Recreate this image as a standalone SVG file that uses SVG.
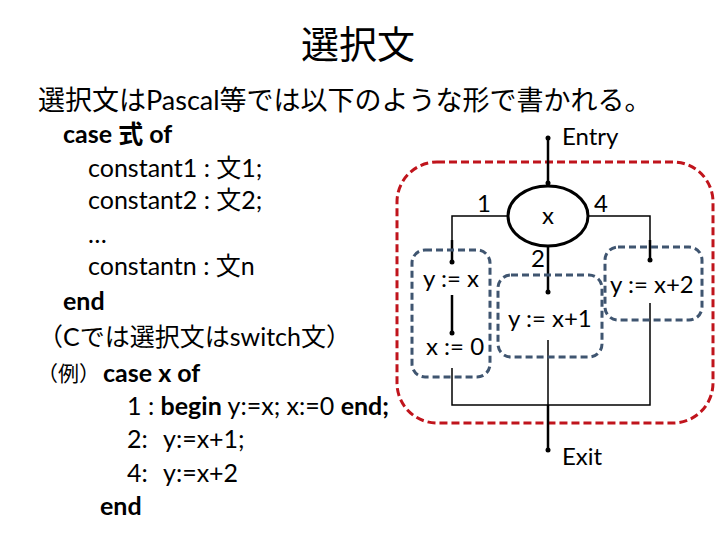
<svg xmlns="http://www.w3.org/2000/svg" width="720" height="540" viewBox="0 0 720 540">
<defs>
<style>
text{font-family:Lato,"Noto Sans CJK JP",sans-serif;fill:#000}
.title{font-size:38px}
.t{font-size:27px}
.c{font-size:25px}
.b{font-weight:bold}
.d{font-size:24px}
.grp{fill:none;stroke:#3F5570;stroke-width:3;stroke-dasharray:7 4}
.red{fill:none;stroke:#C0141C;stroke-width:3;stroke-dasharray:8 4}
.thin{fill:none;stroke:#000;stroke-width:1.5}
.thick{fill:none;stroke:#000;stroke-width:2.5}
</style>
<marker id="dot" viewBox="0 0 6 6" refX="3" refY="3" markerWidth="6" markerHeight="6" markerUnits="userSpaceOnUse"><circle cx="3" cy="3" r="2.5" fill="#000"/></marker>
</defs>
<rect width="720" height="540" fill="#fff"/>
<text class="title" x="358" y="58" text-anchor="middle">選択文</text>
<text class="t" x="38" y="110">選択文はPascal等では以下のような形で書かれる。</text>
<g>
<text x="63" y="143" class="c b">case 式 of</text>
<text x="88" y="177" class="c">constant1 : 文1;</text>
<text x="88" y="209" class="c">constant2 : 文2;</text>
<text x="88" y="243" class="c">…</text>
<text x="88" y="275" class="c">constantn : 文n</text>
<text x="63" y="310" class="c b">end</text>
<text x="38" y="346" class="c">（Cでは選択文はswitch文）</text>
<text x="37" y="381" style="font-size:21px">（例）</text>
<text x="103" y="382" class="c b">case x of</text>
<text x="127" y="415" class="c">1 : <tspan class="b">begin</tspan> y:=x; x:=0 <tspan class="b">end;</tspan></text>
<text x="127" y="448" class="c">2:<tspan x="163">y:=x+1;</tspan></text>
<text x="127" y="482" class="c">4:<tspan x="163">y:=x+2</tspan></text>
<text x="100" y="515" class="c b">end</text>
</g>
<g id="region">
<rect class="red" x="397" y="162" width="316" height="261" rx="40" ry="40"/>
</g>
<g id="connectors">
<line class="thick" x1="548" y1="138" x2="548" y2="183" marker-start="url(#dot)" marker-end="url(#dot)"/>
<polyline class="thin" points="508,216 452,216 452,240"/>
<line class="thick" x1="452" y1="240" x2="452" y2="262" marker-end="url(#dot)"/>
<polyline class="thin" points="588,216 650,216 650,240"/>
<line class="thick" x1="650" y1="240" x2="650" y2="260" marker-end="url(#dot)"/>
<line class="thick" x1="548" y1="246" x2="548" y2="292" marker-end="url(#dot)"/>
<line class="thick" x1="452" y1="295" x2="452" y2="333" marker-end="url(#dot)"/>
<polyline class="thin" points="452,368 452,405 650,405 650,303"/>
<line class="thin" x1="548" y1="340" x2="548" y2="405"/>
<line class="thick" x1="548" y1="405" x2="548" y2="450" marker-end="url(#dot)"/>
<text class="d" x="477" y="212">1</text>
<text class="d" x="594" y="212">4</text>
<text class="d" x="531" y="267">2</text>
</g>
<g id="entry"><text class="d" x="562" y="145">Entry</text></g>
<g id="switch">
<ellipse cx="548" cy="216" rx="40" ry="30" fill="none" stroke="#000" stroke-width="3"/>
<text class="d" x="548" y="224" text-anchor="middle">x</text>
</g>
<g id="case1">
<rect class="grp" x="412" y="250" width="78" height="127" rx="13"/>
<text class="d" x="423" y="287">y := x</text>
<text class="d" x="426" y="355">x := 0</text>
</g>
<g id="case2">
<rect class="grp" x="498" y="275" width="104" height="82" rx="13"/>
<text class="d" x="508" y="327">y := x+1</text>
</g>
<g id="case4">
<rect class="grp" x="605" y="247" width="97" height="73" rx="13"/>
<text class="d" x="610" y="293">y := x+2</text>
</g>
<g id="exit"><text class="d" x="562" y="465">Exit</text></g>
</svg>
